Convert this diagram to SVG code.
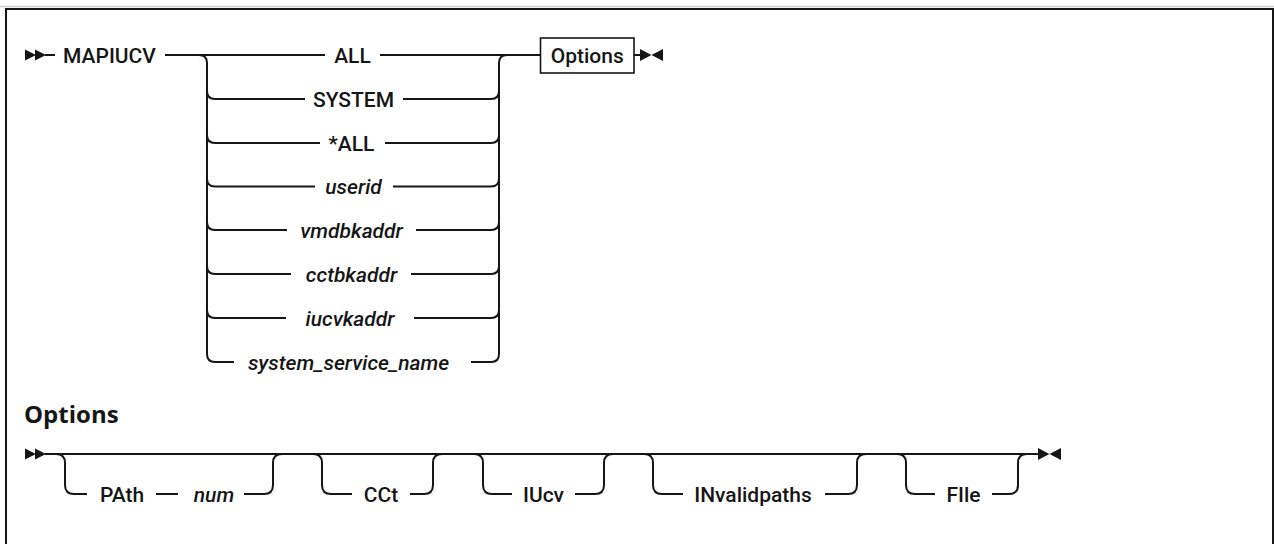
<svg xmlns="http://www.w3.org/2000/svg" width="1274" height="544" viewBox="0 0 1274 544">
<style>
  .t { font-family: Roboto, "Liberation Sans", Arial, sans-serif; font-size: 21px; font-weight: 500; fill: #161616; }
  .c { text-anchor: middle; }
  .i { font-style: italic; }
  .h { font-family: "Open Sans", "Liberation Sans", Arial, sans-serif; font-size: 24px; font-weight: 700; fill: #161616; }
  .ln { fill: none; stroke: #161616; stroke-width: 2; }
  .box { fill: #ffffff; stroke: #161616; stroke-width: 1.6; }
  .ar { fill: #161616; }
</style>
<rect x="0" y="0" width="1274" height="544" fill="#ffffff"/>
<g id="frame">
  <line x1="0" y1="6.5" x2="1274" y2="6.5" stroke="#d0d0d0" stroke-width="1.5"/>
  <path d="M6,544 V9 H1273 V544" fill="none" stroke="#161616" stroke-width="2"/>
</g>

<g id="connectors">
  <!-- main diagram -->
  <path class="ln" d="M45,55 H55"/>
  <path class="ln" d="M165,55 H325"/>
  <path class="ln" d="M380,55 H540.5"/>
  <path class="ln" d="M634,55 H640"/>
  <path class="ln" d="M199,55 Q207,55 207,63 V354 Q207,362 215,362 H234"/>
  <path class="ln" d="M207,91 Q207,99 215,99 H305"/>
  <path class="ln" d="M207,135 Q207,143 215,143 H320"/>
  <path class="ln" d="M207,178.5 Q207,186.5 215,186.5 H315"/>
  <path class="ln" d="M207,222 Q207,230 215,230 H287"/>
  <path class="ln" d="M207,266 Q207,274 215,274 H291"/>
  <path class="ln" d="M207,310 Q207,318 215,318 H286"/>
  <path class="ln" d="M471,362 H491 Q499,362 499,354 V63 Q499,55 507,55"/>
  <path class="ln" d="M403,99 H491 Q499,99 499,91"/>
  <path class="ln" d="M385,143 H491 Q499,143 499,135"/>
  <path class="ln" d="M393,186.5 H491 Q499,186.5 499,178.5"/>
  <path class="ln" d="M416,230 H491 Q499,230 499,222"/>
  <path class="ln" d="M411,274 H491 Q499,274 499,266"/>
  <path class="ln" d="M414,318 H491 Q499,318 499,310"/>

  <!-- Options fragment -->
  <path class="ln" d="M45,454 H1038"/>
  <path class="ln" d="M56,454 Q65,454 65,463 V485 Q65,494 74,494 H87"/>
  <path class="ln" d="M156,494 H178"/>
  <path class="ln" d="M244,494 H264 Q273,494 273,485 V463 Q273,454 282,454"/>
  <path class="ln" d="M313,454 Q322,454 322,463 V485 Q322,494 331,494 H352"/>
  <path class="ln" d="M410,494 H424 Q433,494 433,485 V463 Q433,454 442,454"/>
  <path class="ln" d="M474,454 Q483,454 483,463 V485 Q483,494 492,494 H512"/>
  <path class="ln" d="M575,494 H595 Q604,494 604,485 V463 Q604,454 613,454"/>
  <path class="ln" d="M644,454 Q653,454 653,463 V485 Q653,494 662,494 H683"/>
  <path class="ln" d="M825,494 H848 Q857,494 857,485 V463 Q857,454 866,454"/>
  <path class="ln" d="M897,454 Q906,454 906,463 V485 Q906,494 915,494 H935"/>
  <path class="ln" d="M992,494 H1009 Q1018,494 1018,485 V463 Q1018,454 1027,454"/>
</g>

<g id="start-main">
  <polygon class="ar" points="25,49.5 36,55 25,60.5"/>
  <polygon class="ar" points="35,49.5 46,55 35,60.5"/>
</g>
<g id="node-MAPIUCV"><text class="t" x="63" y="62.5">MAPIUCV</text></g>
<g id="node-ALL"><text class="t c" x="352.5" y="62.5">ALL</text></g>
<g id="node-SYSTEM"><text class="t c" x="353.5" y="106.5">SYSTEM</text></g>
<g id="node-STARALL"><text class="t c" x="351.5" y="150.5">*ALL</text></g>
<g id="node-userid"><text class="t c i" x="353.5" y="194">userid</text></g>
<g id="node-vmdbkaddr"><text class="t c i" x="351.5" y="237.5">vmdbkaddr</text></g>
<g id="node-cctbkaddr"><text class="t c i" x="351.5" y="281.5">cctbkaddr</text></g>
<g id="node-iucvkaddr"><text class="t c i" x="350" y="325.5">iucvkaddr</text></g>
<g id="node-system_service_name"><text class="t c i" x="348.5" y="369.5">system_service_name</text></g>
<g id="node-Options-ref">
  <rect class="box" x="540.5" y="38" width="93.5" height="35"/>
  <text class="t c" x="587.25" y="62.5">Options</text>
</g>
<g id="end-main">
  <polygon class="ar" points="640,49 651.5,55 640,61"/>
  <polygon class="ar" points="663,49 651.5,55 663,61"/>
</g>

<g id="heading-Options"><text class="h" x="24" y="423">Options</text></g>
<g id="start-options">
  <polygon class="ar" points="25,448.5 36,454 25,459.5"/>
  <polygon class="ar" points="35,448.5 46,454 35,459.5"/>
</g>
<g id="node-PAth"><text class="t c" x="122" y="501.5">PAth</text></g>
<g id="node-num"><text class="t c i" x="214" y="501.5">num</text></g>
<g id="node-CCt"><text class="t c" x="381" y="501.5">CCt</text></g>
<g id="node-IUcv"><text class="t c" x="543.5" y="501.5">IUcv</text></g>
<g id="node-INvalidpaths"><text class="t c" x="753" y="501.5">INvalidpaths</text></g>
<g id="node-FIle"><text class="t c" x="963.5" y="501.5">FIle</text></g>
<g id="end-options">
  <polygon class="ar" points="1038,448 1049.5,454 1038,460"/>
  <polygon class="ar" points="1061,448 1049.5,454 1061,460"/>
</g>
</svg>
